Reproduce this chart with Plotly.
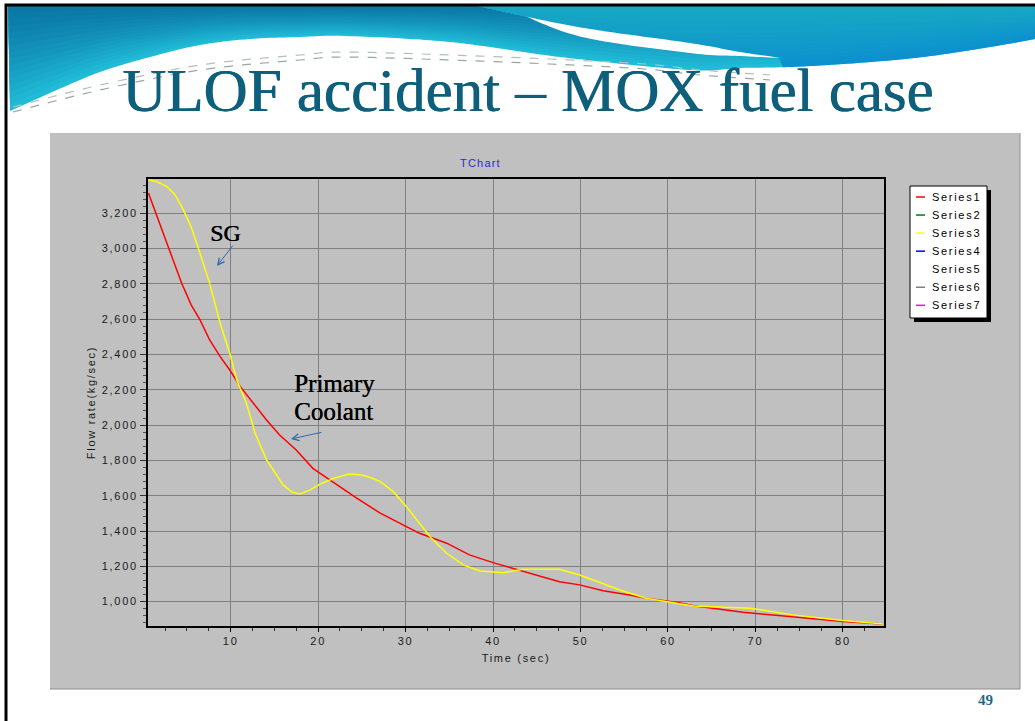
import numpy as np
import plotly.graph_objects as go

# Flow rate histories (kg/sec) over time (sec)
time_series1 = [0.6, 2.3, 3.4, 4.4, 5.5, 6.5, 7.6, 8.8, 9.9, 11.1,
                12.6, 14.1, 15.6, 17.5, 19.4, 21.3, 24.2, 27.1, 30.1, 31.6,
                34.7, 37.3, 40.0, 43.1, 45.3, 47.6, 49.9, 52.6, 55.6, 57.5,
                61.3, 62.9, 68.6, 74.3, 80.0, 84.6]
flow_series1 = [3315, 3087, 2935, 2803, 2680, 2596, 2482, 2388, 2312, 2218,
                2124, 2029, 1944, 1859, 1755, 1689, 1593, 1501, 1425, 1387,
                1331, 1265, 1221, 1176, 1142, 1113, 1095, 1062, 1038, 1019,
                994, 977, 940, 912, 887, 874]

time_series3 = [0.6, 1.6, 2.7, 3.6, 4.6, 5.5, 6.5, 7.6, 8.8, 9.9, 10.7,
                11.8, 12.8, 14.1, 16.0, 17.0, 17.9, 19.1, 20.2, 21.9, 23.6,
                25.0, 26.1, 27.1, 28.6, 30.1, 32.8, 34.7, 36.6, 38.5, 41.2,
                43.4, 47.6, 49.9, 52.2, 54.5, 57.5, 61.3, 62.9, 69.4, 74.3,
                80.0, 82.7, 84.6]
flow_series3 = [3390, 3378, 3351, 3308, 3219, 3120, 2973, 2803, 2577, 2407, 2256,
                2124, 1954, 1803, 1661, 1621, 1610, 1633, 1666, 1700, 1723,
                1717, 1700, 1680, 1623, 1538, 1368, 1274, 1208, 1174, 1164,
                1183, 1183, 1151, 1108, 1066, 1019, 987, 975, 963, 925,
                893, 881, 874]

series_names = ["Series1", "Series2", "Series3", "Series4", "Series5", "Series6", "Series7"]
series_colors = ["#ff0000", "#008000", "#ffff00", "#0000ff", "#ffffff", "#808080", "#ff00ff"]

x_tick_values = [10, 20, 30, 40, 50, 60, 70, 80]
x_tick_labels = ["10", "20", "30", "40", "50", "60", "70", "80"]
y_tick_values = [1000, 1200, 1400, 1600, 1800, 2000, 2200, 2400, 2600, 2800, 3000, 3200]
y_tick_labels = ["1,000", "1,200", "1,400", "1,600", "1,800", "2,000",
                 "2,200", "2,400", "2,600", "2,800", "3,000", "3,200"]

slide_title = "ULOF accident – MOX fuel case"
chart_title = "TChart"
x_title = "Time (sec)"
y_title = "Flow rate(kg/sec)"
page_number = "49"
label_sg = "SG"
label_primary = ["Primary", "Coolant"]

# ---- page geometry (pixels) ----
W, H = 1035, 721
L, R, T, B = 148, 884, 179, 626


def px(x):
    return (x - L) / (R - L)


def py(y):
    return (B - y) / (B - T)


def spaced(text, ls=1.7):
    return f'<span style="letter-spacing:{ls}px">{text}</span>'


def smooth(points, n=10):
    pts = [points[0]] + list(points) + [points[-1]]
    out = []
    for i in range(1, len(pts) - 2):
        p0, p1, p2, p3 = pts[i - 1], pts[i], pts[i + 1], pts[i + 2]
        for k in range(n):
            t = k / n
            t2, t3 = t * t, t * t * t
            xy = []
            for d in range(2):
                xy.append(0.5 * (2 * p1[d] + (-p0[d] + p2[d]) * t
                                 + (2 * p0[d] - 5 * p1[d] + 4 * p2[d] - p3[d]) * t2
                                 + (-p0[d] + 3 * p1[d] - 3 * p2[d] + p3[d]) * t3))
            out.append(tuple(xy))
    out.append(points[-1])
    return out


def curve_fn(points):
    s = smooth(points)
    xs = np.array([p[0] for p in s])
    ys = np.array([p[1] for p in s])
    order = np.argsort(xs)
    return lambda x: np.interp(x, xs[order], ys[order])


def path(points, close=True):
    s = "M " + " L ".join(f"{px(x):.5f},{py(y):.5f}" for x, y in points)
    return s + (" Z" if close else "")


def lerp_color(c0, c1, f):
    a = [int(c0[i:i + 2], 16) for i in (1, 3, 5)]
    b = [int(c1[i:i + 2], 16) for i in (1, 3, 5)]
    return "#" + "".join(f"{round(a[i] + (b[i] - a[i]) * f):02x}" for i in range(3))


shapes = []


def fill_shape(d, color, opacity=1.0):
    shapes.append(dict(type="path", path=d, xref="paper", yref="paper",
                       fillcolor=color, opacity=opacity, line=dict(width=0), layer="below"))


# ---- banner at the top of the page ----
TOP = 6
lower = curve_fn([(8, 112), (50, 93), (100, 72), (150, 57), (200, 45), (250, 39), (300, 37),
                  (345, 36), (450, 42), (560, 57), (690, 70), (740, 68), (790, 67),
                  (857, 63), (923, 57), (990, 47), (1035, 39)])
stripe_up = curve_fn([(478, 6), (578, 27), (690, 43), (740, 52), (782, 58)])
stripe_lo = curve_fn([(504, 6), (578, 36), (690, 53), (740, 56), (782, 58)])

n_bands = 16
xs_all = np.arange(1035, 7, -5.0)
# left/middle sweep: dark blue on top fading to cyan at the lower edge
for k in range(n_bands, 0, -1):
    f = k / n_bands
    col = lerp_color("#0a76a6", "#20bcd7", f ** 1.3)
    pts = [(8, TOP), (1035, TOP)] + [(x, TOP + (lower(x) - TOP) * f) for x in xs_all]
    fill_shape(path(pts), col)

# right sweep above the highlight: teal on top fading to blue
xs_right = np.arange(1035, 477, -4.0)
for k in range(n_bands, 0, -1):
    f = k / n_bands
    col = lerp_color("#18a9c3", "#0c90cf", f ** 1.2)
    pts = [(478, TOP), (1035, TOP)]
    for x in xs_right:
        yb = TOP + (lower(x) - TOP) * f
        if x <= 782:
            yb = min(yb, stripe_up(x))
        pts.append((x, max(yb, TOP)))
    fill_shape(path(pts), col)

# white highlight stripe
xs_stripe = np.arange(478, 783, 4.0)
fill_shape(path([(x, stripe_up(x)) for x in xs_stripe] +
                [(x, max(stripe_lo(x), stripe_up(x))) for x in xs_stripe[::-1]]), "#ffffff")

# thin dashed swirl lines
for offset, color in [(0, "#9aa6a6"), (5, "#b4bebe")]:
    pts = smooth([(13, 112 - offset), (100, 90 - offset), (200, 70 - offset), (300, 60 - offset),
                  (345, 57 - offset), (450, 60 - offset), (550, 64 - offset), (645, 69 - offset),
                  (700, 75 - offset), (770, 80 - offset)])
    shapes.append(dict(type="path", path=path(pts, close=False), xref="paper", yref="paper",
                       line=dict(color=color, width=1.2, dash="dash"), layer="below"))

# grey chart panel
shapes.append(dict(type="rect", xref="paper", yref="paper", x0=px(50), x1=px(1020), y0=py(689), y1=py(133),
                   fillcolor="#c0c0c0", line=dict(width=0), layer="below"))
shapes.append(dict(type="path", path=path([(1020, 133), (1020, 689), (50, 689)], close=False),
                   xref="paper", yref="paper", line=dict(color="#8e8e8e", width=1), layer="below"))

# page frame
shapes.append(dict(type="path", path=path([(6, 721), (6, 5), (1035, 5)], close=False),
                   xref="paper", yref="paper", line=dict(color="#000000", width=3), layer="above"))

# ---- legend box ----
LG_L, LG_T, LG_R, LG_B = 910, 186, 987, 318
shapes.append(dict(type="rect", xref="paper", yref="paper", x0=px(LG_L + 4), x1=px(LG_R + 4),
                   y0=py(LG_B + 4), y1=py(LG_T + 4), fillcolor="#000000", line=dict(width=0), layer="above"))
shapes.append(dict(type="rect", xref="paper", yref="paper", x0=px(LG_L), x1=px(LG_R),
                   y0=py(LG_B), y1=py(LG_T), fillcolor="#ffffff", line=dict(color="#000000", width=1), layer="above"))

annotations = []
for i, (name, color) in enumerate(zip(series_names, series_colors)):
    yy = 197 + i * 18.05
    shapes.append(dict(type="line", xref="paper", yref="paper", x0=px(916), x1=px(925), y0=py(yy), y1=py(yy),
                       line=dict(color=color, width=1.5), layer="above"))
    annotations.append(dict(text=spaced(name), x=px(930), y=py(yy), xref="paper", yref="paper",
                            xanchor="left", yanchor="middle", showarrow=False,
                            font=dict(family="Liberation Sans", size=11, color="#000000")))

# ---- text ----
title_color = "#0d5f7b"
annotations += [
    dict(text=slide_title, x=px(527), y=py(91), xref="paper", yref="paper", xanchor="center",
         yanchor="middle", showarrow=False,
         font=dict(family="Liberation Serif", size=61, color=title_color,
                   shadow=f"0.8px 0px 0px {title_color}")),
    dict(text=spaced(chart_title, 1.2), x=px(480), y=py(163), xref="paper", yref="paper",
         xanchor="center", yanchor="middle", showarrow=False,
         font=dict(family="Liberation Sans", size=11, color="#2a2ad0")),
    dict(text=f"<b>{page_number}</b>", x=px(985), y=py(700), xref="paper", yref="paper",
         xanchor="center", yanchor="middle", showarrow=False,
         font=dict(family="Liberation Serif", size=15, color="#1f6888")),
    dict(text=label_sg, x=px(225), y=py(233.5), xref="paper", yref="paper", xanchor="center",
         yanchor="middle", showarrow=False,
         font=dict(family="Liberation Serif", size=24, color="#000000", shadow="0.4px 0px 0px #000000")),
    dict(text=label_primary[0], x=px(334), y=py(383), xref="paper", yref="paper", xanchor="center",
         yanchor="middle", showarrow=False,
         font=dict(family="Liberation Serif", size=25, color="#000000", shadow="0.4px 0px 0px #000000")),
    dict(text=label_primary[1], x=px(333), y=py(411.5), xref="paper", yref="paper", xanchor="center",
         yanchor="middle", showarrow=False,
         font=dict(family="Liberation Serif", size=25, color="#000000", shadow="0.4px 0px 0px #000000")),
    # pointer arrows
    dict(text="", x=px(217), y=py(266), xref="paper", yref="paper", ax=17, ay=-22,
         showarrow=True, arrowhead=5, arrowsize=1.3, arrowwidth=1, arrowcolor="#2e68b0"),
    dict(text="", x=px(291), y=py(439), xref="paper", yref="paper", ax=32, ay=-7,
         showarrow=True, arrowhead=5, arrowsize=1.3, arrowwidth=1, arrowcolor="#2e68b0"),
]

fig = go.Figure()
fig.add_trace(go.Scatter(x=time_series1, y=flow_series1, mode="lines", name=series_names[0],
                         line=dict(color=series_colors[0], width=1.5)))
fig.add_trace(go.Scatter(x=time_series3, y=flow_series3, mode="lines", name=series_names[2],
                         line=dict(color=series_colors[2], width=1.5)))

tick_font = dict(family="Liberation Sans", size=11, color="#1a1a1a")
fig.update_layout(
    width=W, height=H,
    margin=dict(l=L, r=W - R, t=T, b=H - B, pad=0),
    paper_bgcolor="#ffffff",
    plot_bgcolor="#c0c0c0",
    showlegend=False,
    shapes=shapes,
    annotations=annotations,
    xaxis=dict(
        range=[0.55, 84.7], tickmode="array", tickvals=x_tick_values,
        ticktext=[spaced(t) for t in x_tick_labels], tickfont=tick_font,
        showgrid=True, gridcolor="#808080", gridwidth=1,
        showline=True, linecolor="#000000", linewidth=2, mirror=True,
        ticks="outside", ticklen=4, tickcolor="#000000", tickwidth=1,
        minor=dict(ticks="outside", ticklen=3, tickmode="linear", tick0=0, dtick=2.5,
                   tickcolor="#303030", showgrid=False),
        zeroline=False,
        title=dict(text=spaced(x_title), standoff=8,
                   font=dict(family="Liberation Sans", size=11, color="#1a1a1a")),
    ),
    yaxis=dict(
        range=[862, 3394], tickmode="array", tickvals=y_tick_values,
        ticktext=[spaced(t) for t in y_tick_labels], tickfont=tick_font,
        showgrid=True, gridcolor="#808080", gridwidth=1,
        showline=True, linecolor="#000000", linewidth=2, mirror=True,
        ticks="outside", ticklen=6, tickcolor="#303030", tickwidth=1,
        minor=dict(ticks="outside", ticklen=3, tickmode="linear", tick0=0, dtick=40,
                   tickcolor="#505050", showgrid=False),
        zeroline=False,
        title=dict(text=spaced(y_title), standoff=4,
                   font=dict(family="Liberation Sans", size=11, color="#1a1a1a")),
    ),
)

fig.write_html("out.html")
